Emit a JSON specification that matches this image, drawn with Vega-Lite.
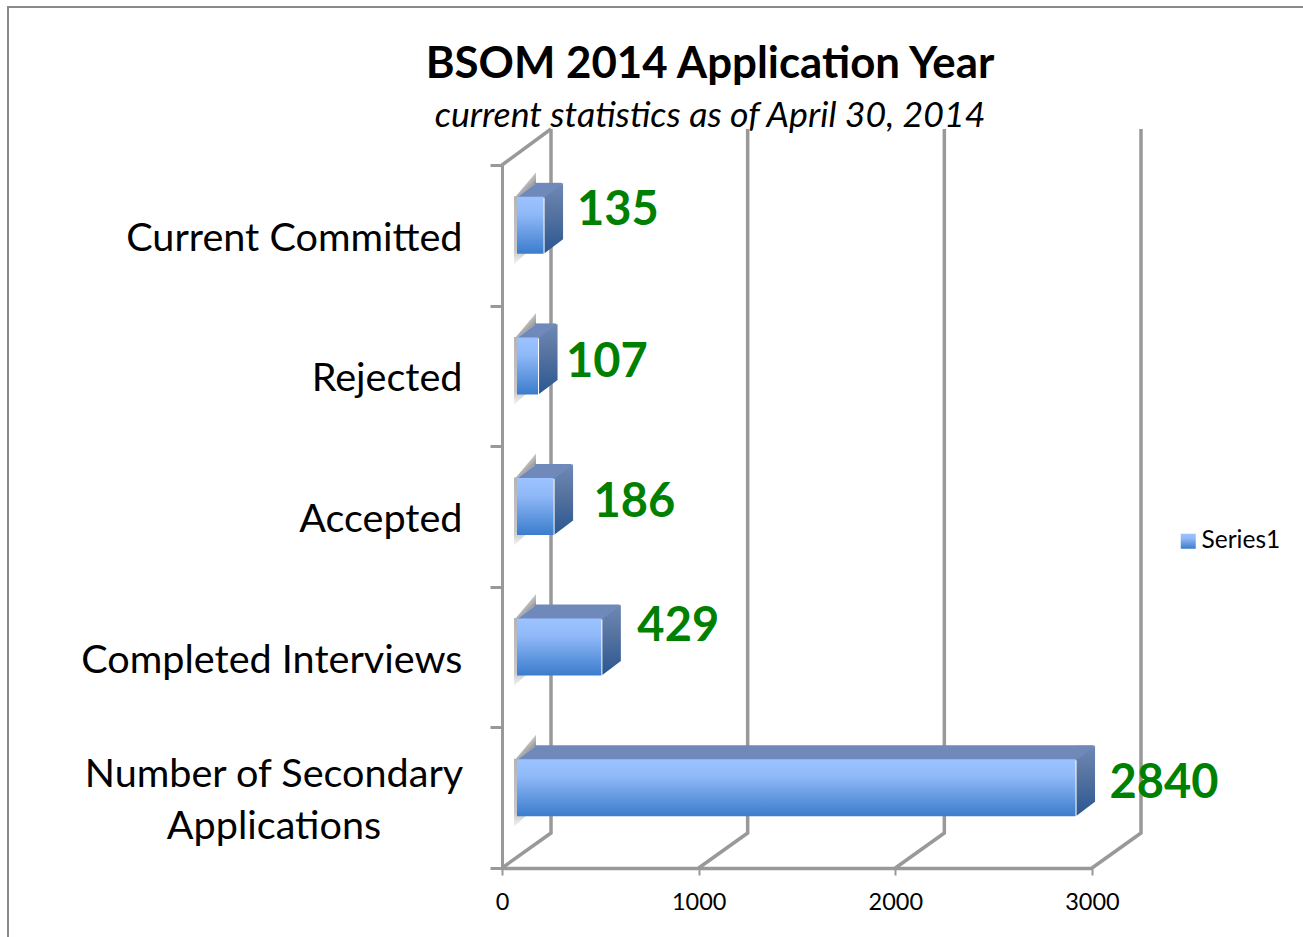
{"$schema":"https://vega.github.io/schema/vega-lite/v6.json","width":590,"height":703,"autosize":{"type":"none"},"padding":{"left":502,"top":165,"right":211,"bottom":69},"background":"white",
"title":{"text":"BSOM 2014 Application Year","subtitle":"current statistics as of April 30, 2014","anchor":"middle","frame":"group","dx":-87,"offset":-131,"font":"Lato","fontSize":43.8,"fontWeight":"bold","color":"#000000","subtitleFont":"Lato","subtitleFontSize":35.7,"subtitleFontStyle":"italic","subtitleColor":"#000000","subtitlePadding":13},
"config":{"view":{"stroke":null},"font":"Lato"},
"datasets":{"bars":[{"label":"Current Committed","value":135,"series":"Series1"},{"label":"Rejected","value":107,"series":"Series1"},{"label":"Accepted","value":186,"series":"Series1"},{"label":"Completed Interviews","value":429,"series":"Series1"},{"label":"Number of Secondary Applications","value":2840,"series":"Series1"}],"grid":[{"tick":0},{"tick":1000},{"tick":2000},{"tick":3000}]},
"encoding":{"y":{"field":"label","type":"nominal","scale":{"domain":["Current Committed","Rejected","Accepted","Completed Interviews","Number of Secondary Applications"],"paddingInner":0,"paddingOuter":0},"axis":{"title":null,"tickBand":"extent","domainColor":"#999999","domainWidth":3,"tickColor":"#999999","tickWidth":3,"tickSize":12,"labelPadding":28,"labelOffset":3,"labelFont":"Lato","labelFontSize":39.6,"labelColor":"#000000","labelLimit":450,"labelExpr":"datum.label == 'Number of Secondary Applications' ? '' : datum.label"}}},
"layer":[
{"data":{"name":"grid"},"mark":{"type":"point","shape":"M0 0 L49 -35 L49 -739","size":4,"filled":false,"stroke":"#999999","strokeWidth":3.5,"opacity":1},"encoding":{"x":{"field":"tick","type":"quantitative","scale":{"domain":[0,3000],"nice":false},"axis":{"title":null,"values":[0,1000,2000,3000],"grid":false,"domainColor":"#999999","domainWidth":3.5,"tickColor":"#999999","tickWidth":2,"tickSize":7,"labelPadding":15,"labelFont":"Lato","labelFontSize":23.5,"labelColor":"#000000","labelFlush":false,"format":"d"}},"y":{"datum":"Number of Secondary Applications","bandPosition":1}}},
{"data":{"values":[{"tick":0}]},"mark":{"type":"point","shape":"M0 -703 L49 -739","size":4,"filled":false,"stroke":"#999999","strokeWidth":3.5,"opacity":1},"encoding":{"x":{"field":"tick","type":"quantitative"},"y":{"datum":"Number of Secondary Applications","bandPosition":1}}},
{"data":{"values":[{"tick":0}]},"mark":{"type":"point","shape":"M-494 70 L-494 -861 L802 -861","size":4,"filled":false,"stroke":"#8a8a8a","strokeWidth":2,"opacity":1},"encoding":{"x":{"field":"tick","type":"quantitative"},"y":{"datum":"Number of Secondary Applications","bandPosition":1}}},
{"data":{"name":"bars"},"mark":{"type":"point","shape":"M-2 -28 L19 -53 L19 -42 L0 -28 Z","size":4,"filled":true,"fill":{"gradient":"linear","x1":0.75,"y1":0.75,"x2":0.3,"y2":0.2,"stops":[{"offset":0,"color":"#8a8a8a"},{"offset":0.5,"color":"#bdbdbd"},{"offset":1,"color":"#f4f4f4"}]},"opacity":1,"xOffset":15,"yOffset":-10},"encoding":{"x":{"datum":0,"type":"quantitative"}}},
{"data":{"name":"bars"},"mark":{"type":"point","shape":"M-3 -29 L0 -29 L0 28 L9 28 L-3 39 Z","size":4,"filled":true,"fill":{"gradient":"linear","x1":0,"y1":0,"x2":0,"y2":1,"stops":[{"offset":0,"color":"#b4b4b4"},{"offset":0.8,"color":"#c8c8c8"},{"offset":1,"color":"#f6f6f6"}]},"opacity":1,"xOffset":15,"yOffset":-10},"encoding":{"x":{"datum":0,"type":"quantitative"}}},
{"data":{"name":"bars"},"mark":{"type":"bar","size":15,"xOffset":33,"x2Offset":16,"yOffset":-45,"color":"#7089bb"},"encoding":{"x":{"field":"value","type":"quantitative"}}},
{"data":{"name":"bars"},"mark":{"type":"point","shape":"M0 -28 L19 -42 L19 -27 L0 -27 Z","size":4,"filled":true,"fill":"#7089bb","opacity":1,"xOffset":15,"yOffset":-10},"encoding":{"x":{"datum":0,"type":"quantitative"}}},
{"data":{"name":"bars"},"mark":{"type":"point","shape":"M-1 -28 L18.5 -42 L-1 -42 Z","size":4,"filled":true,"fill":"#7089bb","opacity":1,"xOffset":16,"yOffset":-10},"encoding":{"x":{"field":"value","type":"quantitative"}}},
{"data":{"name":"bars"},"mark":{"type":"point","shape":"M0 -28 L18.5 -42 L18.5 14 L0 28 Z","size":4,"filled":true,"fill":{"gradient":"linear","x1":0,"y1":0,"x2":0,"y2":1,"stops":[{"offset":0,"color":"#6f88b6"},{"offset":0.45,"color":"#54729f"},{"offset":1,"color":"#2a5792"}]},"opacity":1,"xOffset":16,"yOffset":-10},"encoding":{"x":{"field":"value","type":"quantitative"}}},
{"data":{"name":"bars"},"mark":{"type":"bar","size":57,"xOffset":15,"x2Offset":16,"yOffset":-10,"fill":{"gradient":"linear","x1":0,"y1":0,"x2":0,"y2":1,"stops":[{"offset":0,"color":"#9cc3ff"},{"offset":0.3,"color":"#90b9f8"},{"offset":1,"color":"#3b7ccc"}]}},"encoding":{"x":{"field":"value","type":"quantitative"},"opacity":{"field":"series","type":"nominal","scale":{"range":[1]},"legend":{"title":null,"orient":"none","legendX":674,"legendY":364,"symbolType":"square","symbolSize":225,"symbolStrokeWidth":0,"labelFont":"Lato","labelFontSize":24.5,"labelColor":"#000000","labelOffset":1}}}},
{"data":{"name":"bars"},"transform":[{"filter":"datum.value == 2840"}],"mark":{"type":"text","align":"center","baseline":"middle","lineBreak":"|","lineHeight":52,"font":"Lato","fontSize":39.6,"color":"#000000","xOffset":-228,"yOffset":-23},"encoding":{"x":{"datum":0,"type":"quantitative"},"text":{"value":"Number of Secondary|Applications"}}},
{"data":{"name":"bars"},"transform":[{"filter":"datum.value == 135"}],"mark":{"type":"text","align":"left","baseline":"middle","font":"Lato","fontWeight":"bold","fontSize":47,"color":"#008000","dx":48.5,"dy":-24},"encoding":{"x":{"field":"value","type":"quantitative"},"text":{"field":"value"}}},
{"data":{"name":"bars"},"transform":[{"filter":"datum.value == 107"}],"mark":{"type":"text","align":"left","baseline":"middle","font":"Lato","fontWeight":"bold","fontSize":47,"color":"#008000","dx":43,"dy":-13},"encoding":{"x":{"field":"value","type":"quantitative"},"text":{"field":"value"}}},
{"data":{"name":"bars"},"transform":[{"filter":"datum.value == 186"}],"mark":{"type":"text","align":"left","baseline":"middle","font":"Lato","fontWeight":"bold","fontSize":47,"color":"#008000","dx":55,"dy":-14},"encoding":{"x":{"field":"value","type":"quantitative"},"text":{"field":"value"}}},
{"data":{"name":"bars"},"transform":[{"filter":"datum.value == 429"}],"mark":{"type":"text","align":"left","baseline":"middle","font":"Lato","fontWeight":"bold","fontSize":47,"color":"#008000","dx":51,"dy":-30},"encoding":{"x":{"field":"value","type":"quantitative"},"text":{"field":"value"}}},
{"data":{"name":"bars"},"transform":[{"filter":"datum.value == 2840"}],"mark":{"type":"text","align":"left","baseline":"middle","font":"Lato","fontWeight":"bold","fontSize":47,"color":"#008000","dx":49,"dy":-14},"encoding":{"x":{"field":"value","type":"quantitative"},"text":{"field":"value"}}}
]}
